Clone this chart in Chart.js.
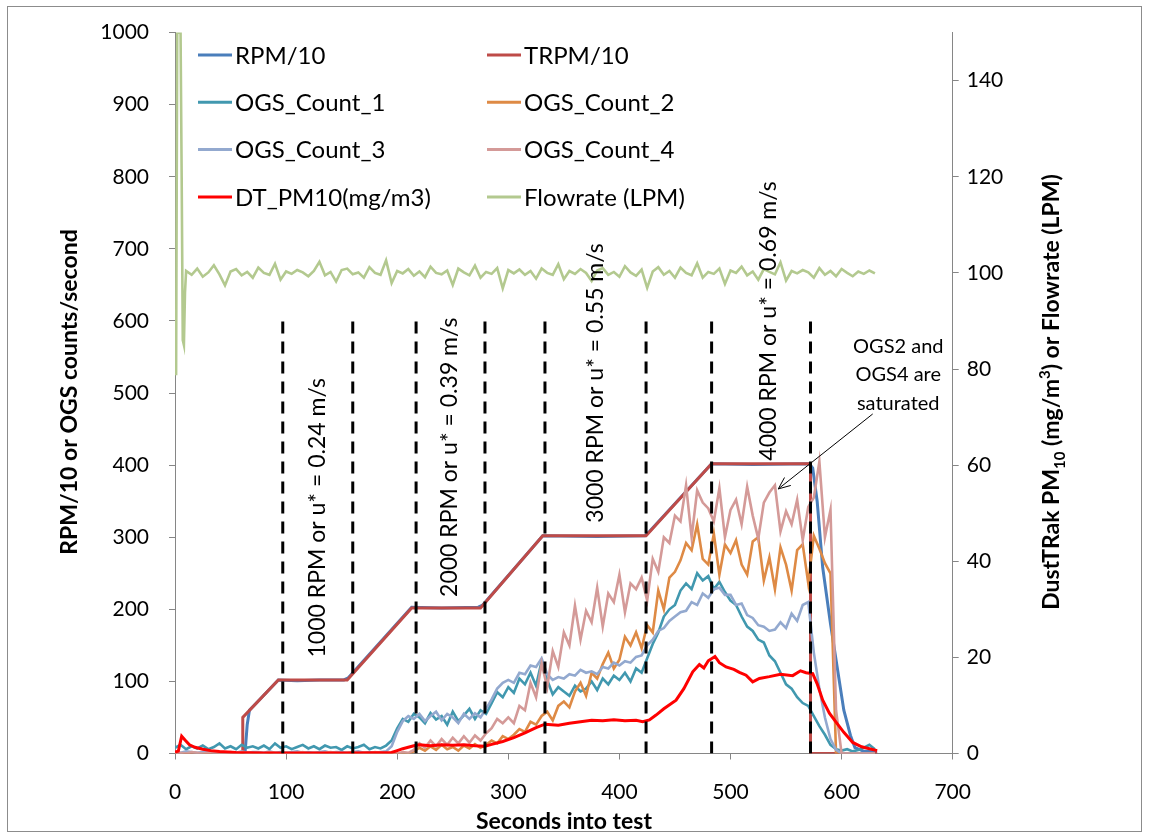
<!DOCTYPE html>
<html lang="en">
<head>
<meta charset="UTF-8">
<title>RPM, OGS counts and DustTRak PM10 during test</title>
<script src="https://cdn.jsdelivr.net/npm/chart.js"></script>
<style>
  html, body { margin: 0; padding: 0; background: #fff; }
</style>
</head>
<body>
<canvas id="chart" width="1149" height="837"></canvas>
<script>
// time grid for the sampled (noisy) series, seconds
const secs = [
  0, 5, 10, 15, 20, 25, 30, 35, 40, 45,
  50, 55, 60, 65, 70, 75, 80, 85, 90, 95,
  100, 105, 110, 115, 120, 125, 130, 135, 140, 145,
  150, 155, 160, 165, 170, 175, 180, 185, 190, 195,
  200, 205, 210, 215, 220, 225, 230, 235, 240, 245,
  250, 255, 260, 265, 270, 275, 280, 285, 290, 295,
  300, 305, 310, 315, 320, 325, 330, 335, 340, 345,
  350, 355, 360, 365, 370, 375, 380, 385, 390, 395,
  400, 405, 410, 415, 420, 425, 430, 435, 440, 445,
  450, 455, 460, 465, 470, 475, 480, 485, 490, 495,
  500, 505, 510, 515, 520, 525, 530, 535, 540, 545,
  550, 555, 560, 565, 570, 575, 580, 585, 590, 595,
  600, 605, 610, 615, 620, 625, 630
];

const ogs1 = [
  8, 12, 6, 10, 7, 11, 6, 9, 14, 7,
  10, 6, 12, 8, 10, 7, 11, 6, 14, 8,
  10, 6, 9, 12, 7, 10, 6, 11, 8, 9,
  5, 10, 7, 9, 12, 6, 9, 7, 11, 18,
  35, 48, 44, 55, 50, 42, 56, 47, 52, 40,
  58, 45, 53, 62, 48, 60, 55, 70, 85, 78,
  92, 84, 104, 96, 112, 94, 128, 102, 82, 92,
  86, 80, 94, 86, 90, 100, 88, 104, 96, 108,
  102, 112, 100, 118, 112, 132, 152, 168, 190, 200,
  206, 226, 236, 228, 250, 240, 246, 228, 238, 224,
  212, 206, 190, 176, 170, 158, 154, 136, 128, 112,
  96, 90, 78, 70, 66, 52, 38, 26, 12, 6,
  4, 6, 3, 5, 8, 12, 6
];

const ogs2 = [
  0, 0, 0, 0, 0, 0, 0, 0, 0, 0,
  0, 0, 0, 0, 0, 0, 0, 0, 0, 0,
  0, 0, 0, 0, 0, 0, 0, 0, 0, 0,
  0, 0, 0, 0, 0, 0, 0, 0, 0, 0,
  0, 0, 0, 3, 8, 4, 10, 5, 12, 6,
  9, 4, 11, 7, 13, 8, 12, 18, 14, 24,
  20, 26, 34, 30, 44, 40, 52, 58, 46, 66,
  72, 64, 86, 98, 80, 112, 104, 124, 140, 118,
  130, 162, 150, 168, 146, 178, 168, 226, 200, 244,
  252, 268, 292, 282, 318, 270, 262, 305, 248, 290,
  278, 296, 262, 248, 294, 300, 240, 272, 228, 286,
  262, 226, 282, 290, 236, 302, 284, 264, 250, 0,
  0, 0, 0, 0, 0, 0, 0
];

const ogs3 = [
  2, 1, 3, 2, 1, 2, 3, 1, 2, 1,
  2, 1, 3, 1, 2, 2, 1, 3, 1, 2,
  1, 2, 3, 1, 2, 1, 2, 3, 1, 2,
  2, 1, 2, 3, 1, 2, 1, 2, 3, 10,
  30, 45, 52, 48, 55, 45, 52, 58, 46, 55,
  50, 42, 55, 48, 56, 50, 62, 75, 90, 98,
  102, 98, 112, 110, 122, 120, 132, 110, 102, 106,
  104, 110, 108, 116, 112, 114, 110, 120, 118, 126,
  122, 128, 126, 134, 136, 150, 158, 170, 174, 184,
  190, 196, 198, 210, 206, 222, 216, 228, 230, 220,
  220, 206, 208, 192, 188, 178, 176, 170, 172, 182,
  174, 194, 184, 206, 210, 140, 90, 50, 20, 5,
  0, 0, 0, 0, 0, 0, 0
];

const ogs4 = [
  0, 1, 0, 2, 1, 0, 1, 2, 0, 1,
  1, 0, 2, 1, 0, 1, 0, 2, 1, 0,
  1, 0, 1, 2, 0, 1, 0, 1, 2, 1,
  0, 1, 2, 0, 1, 0, 2, 1, 0, 1,
  0, 2, 1, 5, 14, 8, 18, 10, 20, 12,
  22, 14, 24, 15, 25, 18, 28, 35, 48, 42,
  50, 42, 66, 60, 98, 78, 125, 92, 142, 120,
  168, 150, 205, 158, 198, 182, 230, 176, 222, 210,
  248, 196, 236, 228, 244, 212, 270, 252, 300, 292,
  330, 322, 372, 300, 365, 348, 340, 322, 368, 300,
  338, 352, 318, 370, 330, 298, 348, 362, 372, 308,
  336, 318, 352, 296, 342, 355, 405, 300, 338, 60,
  0, 0, 0, 0, 0, 0, 0
];

// flowrate (LPM): start-up spike, then one value per grid step from 10 s
const flowSpikeT = [0, 1, 2, 3, 4, 5, 6, 7, 8, 9];
const flowSpikeV = [79, 79, 150, 150, 150, 150, 120, 86, 85, 96];
const flow = [
  100.4, 99.6, 100.9, 99.2, 100.1, 101.6, 99.7, 97.4, 100.3, 100.8,
  99.5, 100.2, 99.0, 101.1, 100.0, 99.6, 101.9, 98.6, 100.3, 99.8,
  100.6, 100.1, 99.3, 100.4, 102.3, 99.5, 100.2, 98.2, 100.6, 100.9,
  99.7, 100.1, 99.0, 101.2, 100.0, 99.6, 102.6, 97.9, 100.4, 99.9,
  100.8, 99.4, 100.3, 99.1, 101.3, 100.0, 99.7, 100.5, 97.5, 100.9,
  100.1, 99.5, 101.5, 99.0, 100.2, 99.8, 101.0, 96.8, 100.6, 99.9,
  100.7, 99.6, 100.4, 98.8, 100.9, 100.0, 99.6, 101.8, 98.7, 100.4,
  99.8, 100.8, 100.0, 98.3, 100.5, 101.0, 99.6, 100.2, 99.2, 101.4,
  100.1, 99.4, 100.7, 96.9, 100.3, 101.2, 99.6, 100.4, 99.0, 101.1,
  100.0, 99.5, 102.0, 99.0, 100.2, 99.8, 100.9, 97.7, 100.5, 100.0,
  101.3, 99.5, 100.3, 98.6, 100.8, 100.2, 99.7, 102.2, 98.4, 100.4,
  99.9, 100.6, 100.1, 99.0, 101.0, 99.6, 100.4, 99.3, 100.8, 100.0,
  99.3, 100.3, 99.8, 100.5, 99.9
];

// smooth series as breakpoints
const rpmT = [0, 63, 65, 67, 72, 93, 110, 130, 152, 156, 213, 240, 273, 277, 331, 380, 423, 427, 483, 520, 571, 574, 578, 583, 590, 596, 602, 608, 612, 620, 632];
const rpmV = [0, 0, 40, 60, 68, 102, 101, 102, 102, 105, 203, 202, 203, 206, 302, 301, 302, 308, 402, 401, 402, 396, 350, 258, 180, 120, 60, 25, 8, 3, 2];

const trpmT = [0, 61, 61, 93, 155, 213, 275, 331, 424, 483, 572, 572, 632];
const trpmV = [0, 0, 50, 102, 102, 202, 202, 302, 302, 402, 402, 0, 0];

const dtT = [0, 3, 6, 9, 13, 18, 25, 32, 40, 55, 80, 120, 160, 195, 200, 205, 210, 215, 220, 230, 240, 250, 260, 270, 279, 285, 295, 305, 315, 325, 333, 345, 355, 365, 375, 385, 395, 405, 415, 421, 427, 433, 440, 451, 458, 466, 472, 476, 480, 486, 490, 496, 503, 508, 514, 520, 526, 535, 545, 556, 563, 568, 574, 578, 583, 589, 596, 602, 610, 618, 625, 632];
const dtV = [0.3, 0.5, 3.6, 2.8, 1.8, 1.3, 0.9, 0.6, 0.4, 0.2, 0.1, 0.1, 0.1, 0.2, 0.6, 1.0, 1.3, 1.6, 1.8, 1.6, 1.8, 1.7, 1.8, 1.6, 1.5, 1.9, 2.5, 3.3, 4.3, 5.4, 6.1, 5.9, 6.3, 6.6, 6.9, 6.8, 7.0, 6.8, 6.9, 6.6, 7.0, 8.0, 9.3, 11.1, 13.5, 17.0, 18.5, 17.8, 19.3, 20.2, 18.9, 18.0, 17.5, 16.9, 16.3, 14.9, 15.6, 16.0, 16.5, 16.2, 17.2, 16.8, 16.6, 14.5, 11.1, 8.4, 6.2, 4.4, 2.3, 1.4, 1.0, 0.6];

// speed step boundaries (dashed) and their labels
const stepX = [97, 160, 217, 279, 333, 424, 483, 572];
const stepTop = 600;
const stepLabels = [
  '1000 RPM or u* = 0.24 m/s',
  '2000 RPM or u* = 0.39 m/s',
  '3000 RPM or u* = 0.55 m/s',
  '4000 RPM or u* = 0.69 m/s'
];
const stepLabelX = [128, 247.5, 379, 534.5];
const stepLabelY = [327, 411, 514, 600];

const FONT = 'Lato, "Open Sans", sans-serif';

const pairs = (xs, ys) => xs.map((x, i) => ({ x: x, y: ys[i] }));
const onGrid = vals => secs.map((t, i) => ({ x: t, y: vals[i] }));

const flowPts = pairs(flowSpikeT, flowSpikeV).concat(pairs(secs.slice(2), flow));

const dashPts = [];
stepX.forEach(x => { dashPts.push({ x: x, y: 0 }, { x: x, y: stepTop }, { x: x, y: null }); });

const line = (label, data, color, axis, order, width) => ({
  label: label, data: data, yAxisID: axis, order: order,
  borderColor: color, backgroundColor: color, borderWidth: width || 2.6,
  pointRadius: 0, tension: 0, fill: false
});

const legendItems = [
  ['RPM/10', '#4A7EBB'], ['TRPM/10', '#BE4B48'],
  ['OGS_Count_1', '#4198AF'], ['OGS_Count_2', '#DE8A45'],
  ['OGS_Count_3', '#93A9CF'], ['OGS_Count_4', '#D49A98'],
  ['DT_PM10(mg/m3)', '#FF0000'], ['Flowrate (LPM)', '#B3C98F']
];

const framePlugin = {
  id: 'frame',
  beforeDraw(chart) {
    const ctx = chart.ctx;
    ctx.save();
    ctx.fillStyle = '#fff';
    ctx.fillRect(0, 0, chart.width, chart.height);
    ctx.strokeStyle = '#8c8c8c';
    ctx.lineWidth = 1;
    ctx.strokeRect(7.5, 6.5, 1134, 825);
    ctx.restore();
  }
};

const notesPlugin = {
  id: 'notes',
  afterDatasetsDraw(chart) {
    const ctx = chart.ctx, xs = chart.scales.x, ys = chart.scales.y;
    ctx.save();
    ctx.fillStyle = '#000';
    ctx.font = '23px ' + FONT;
    ctx.textAlign = 'center';
    ctx.textBaseline = 'middle';
    stepLabels.forEach((txt, i) => {
      ctx.save();
      ctx.translate(xs.getPixelForValue(stepLabelX[i]), ys.getPixelForValue(stepLabelY[i]));
      ctx.rotate(-Math.PI / 2);
      ctx.fillText(txt, 0, 0);
      ctx.restore();
    });
    // saturation note with arrow
    ctx.font = '20px ' + FONT;
    const nx = xs.getPixelForValue(651);
    ['OGS2 and', 'OGS4 are', 'saturated'].forEach((t, i) => {
      ctx.fillText(t, nx, ys.getPixelForValue([565, 526, 486][i]));
    });
    const x0 = xs.getPixelForValue(628), y0 = ys.getPixelForValue(471);
    const x1 = xs.getPixelForValue(543), y1 = ys.getPixelForValue(367);
    ctx.strokeStyle = '#000';
    ctx.lineWidth = 1;
    ctx.beginPath();
    ctx.moveTo(x0, y0); ctx.lineTo(x1, y1);
    const a = Math.atan2(y0 - y1, x0 - x1);
    ctx.moveTo(x1 + 13 * Math.cos(a + 0.4), y1 + 13 * Math.sin(a + 0.4));
    ctx.lineTo(x1, y1);
    ctx.lineTo(x1 + 13 * Math.cos(a - 0.4), y1 + 13 * Math.sin(a - 0.4));
    ctx.stroke();
    ctx.restore();
  },
  afterDraw(chart) {
    const ctx = chart.ctx;
    ctx.save();
    // legend
    ctx.font = '24px ' + FONT;
    ctx.textBaseline = 'middle';
    ctx.textAlign = 'left';
    legendItems.forEach((it, i) => {
      const col = i % 2, row = Math.floor(i / 2);
      const lx = col ? 487 : 198, ly = 55 + row * 47.3;
      ctx.strokeStyle = it[1];
      ctx.lineWidth = 3;
      ctx.beginPath(); ctx.moveTo(lx, ly); ctx.lineTo(lx + 34, ly); ctx.stroke();
      ctx.fillStyle = '#000';
      ctx.fillText(it[0], lx + 37, ly + 1);
    });
    // axis titles
    ctx.font = 'bold 23px ' + FONT;
    ctx.textAlign = 'center';
    ctx.fillText('Seconds into test', 564, 822);
    ctx.save();
    ctx.translate(70, 392);
    ctx.rotate(-Math.PI / 2);
    ctx.fillText('RPM/10 or OGS counts/second', 0, 0);
    ctx.restore();
    const parts = [
      ['DustTRak PM', 23, 0], ['10', 15, 6], [' (mg/m', 23, 0], ['3', 15, -9], [') or Flowrate (LPM)', 23, 0]
    ];
    let total = 0;
    parts.forEach(p => { ctx.font = 'bold ' + p[1] + 'px ' + FONT; total += ctx.measureText(p[0]).width; });
    ctx.translate(1051, 392);
    ctx.rotate(-Math.PI / 2);
    ctx.textAlign = 'left';
    ctx.textBaseline = 'alphabetic';
    let cx = -total / 2;
    parts.forEach(p => {
      ctx.font = 'bold ' + p[1] + 'px ' + FONT;
      ctx.fillText(p[0], cx, 8 + p[2]);
      cx += ctx.measureText(p[0]).width;
    });
    ctx.restore();
  }
};

const axisGrid = { display: true, drawOnChartArea: false, drawTicks: true, tickLength: 6, color: '#868686' };
const axisBorder = { display: true, color: '#868686', width: 1 };
const tickFont = { family: FONT, size: 21 };
const plain = v => String(v);

new Chart(document.getElementById('chart'), {
  type: 'line',
  data: {
    datasets: [
      Object.assign(line('steps', dashPts, '#000', 'y', 0, 3), { borderDash: [12, 8], spanGaps: false }),
      line('DT_PM10(mg/m3)', pairs(dtT, dtV), '#FF0000', 'y2', 1, 3),
      line('Flowrate (LPM)', flowPts, '#B3C98F', 'y2', 2, 2.6),
      line('OGS_Count_4', onGrid(ogs4), '#D49A98', 'y', 3),
      line('OGS_Count_3', onGrid(ogs3), '#93A9CF', 'y', 4),
      line('OGS_Count_2', onGrid(ogs2), '#DE8A45', 'y', 5),
      line('OGS_Count_1', onGrid(ogs1), '#4198AF', 'y', 6),
      line('TRPM/10', pairs(trpmT, trpmV), '#BE4B48', 'y', 7, 3),
      line('RPM/10', pairs(rpmT, rpmV), '#4A7EBB', 'y', 8, 3)
    ]
  },
  options: {
    responsive: false,
    animation: false,
    layout: { padding: { top: 31, left: 0, right: 0, bottom: 0 } },
    plugins: { legend: { display: false }, tooltip: { enabled: false } },
    scales: {
      x: {
        type: 'linear', min: 0, max: 700,
        ticks: { stepSize: 100, color: '#000', font: tickFont, padding: 20, maxRotation: 0, callback: plain },
        grid: axisGrid, border: axisBorder,
        afterFit(s) { s.height = 83.5; }
      },
      y: {
        position: 'left', min: 0, max: 1000,
        ticks: { stepSize: 100, color: '#000', font: tickFont, padding: 20, callback: plain },
        grid: axisGrid, border: axisBorder,
        afterFit(s) { s.width = 175; }
      },
      y2: {
        position: 'right', min: 0, max: 150,
        ticks: { stepSize: 20, color: '#000', font: tickFont, padding: 8, callback: plain },
        afterBuildTicks(s) { s.ticks = s.ticks.filter(t => t.value <= 140); },
        grid: axisGrid, border: axisBorder,
        afterFit(s) { s.width = 196.3; }
      }
    }
  },
  plugins: [framePlugin, notesPlugin]
});
</script>
</body>
</html>
